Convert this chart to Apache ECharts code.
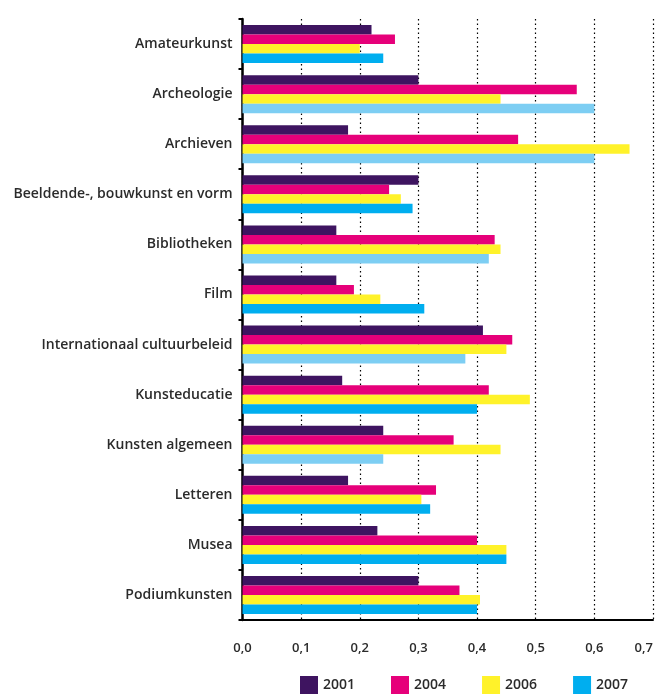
<!DOCTYPE html>
<html>
<head>
<meta charset="utf-8">
<script src="https://cdn.jsdelivr.net/npm/echarts@6/dist/echarts.min.js"></script>
<style>
html,body{margin:0;padding:0;background:#fff;}
#container{width:659px;height:694px;}
</style>
</head>
<body>
<div id="container"></div>
<script>
// categorieen (van boven naar beneden)
var categories = ['Amateurkunst','Archeologie','Archieven','Beeldende-, bouwkunst en vorm','Bibliotheken','Film',
  'Internationaal cultuurbeleid','Kunsteducatie','Kunsten algemeen','Letteren','Musea','Podiumkunsten'];
var years = ['2001','2004','2006','2007'];
var v2001 = [0.22,0.30,0.18,0.30,0.16,0.16,0.41,0.17,0.24,0.18,0.23,0.30];
var v2004 = [0.26,0.57,0.47,0.25,0.43,0.19,0.46,0.42,0.36,0.33,0.40,0.37];
var v2006 = [0.20,0.44,0.66,0.27,0.44,0.235,0.45,0.49,0.44,0.305,0.45,0.405];
var v2007 = [0.24,0.60,0.60,0.29,0.42,0.31,0.38,0.40,0.24,0.32,0.45,0.40];
// 2007-balken die in het origineel lichter blauw zijn
var lichtBlauw = ['Archeologie','Archieven','Bibliotheken','Internationaal cultuurbeleid','Kunsten algemeen'];

var kleuren = ['#3e1460','#e6007a','#fff22a','#00aeef'];
var font = '"Open Sans", sans-serif';

var dom = document.getElementById('container');
var myChart = echarts.init(dom, null, {renderer: 'canvas'});

function maakSerie(naam, waarden, idx){
  return {
    name: naam,
    type: 'bar',
    barWidth: 9.5,
    barGap: '0%',
    itemStyle: {color: kleuren[idx]},
    data: waarden.map(function (v, i) {
      if (idx === 3 && lichtBlauw.indexOf(categories[i]) >= 0) {
        return {value: v, itemStyle: {color: '#7dcef3'}};
      }
      return v;
    })
  };
}

var option = {
  animation: false,
  grid: {left: 242.5, right: 6, top: 19, bottom: 74, outerBoundsMode: 'none', containLabel: false},
  legend: {
    data: years,
    left: 295,
    top: 671,
    icon: 'rect',
    itemWidth: 18,
    itemHeight: 18,
    itemGap: 36,
    textStyle: {fontFamily: font, fontWeight: 600, fontSize: 14, color: '#2b2b2b'}
  },
  xAxis: {
    type: 'value',
    min: 0,
    max: 0.7,
    interval: 0.1,
    axisLine: {show: true, lineStyle: {color: '#000', width: 2}},
    axisTick: {show: false},
    axisLabel: {
      margin: 22,
      alignMaxLabel: 'right',
      fontFamily: font, fontWeight: 600, fontSize: 13, color: '#2b2b2b',
      formatter: function (v) { return v.toFixed(1).replace('.', ','); }
    },
    splitLine: {show: true, lineStyle: {color: '#000', type: [1.5, 3], width: 1.2}}
  },
  yAxis: {
    type: 'category',
    inverse: true,
    data: categories,
    axisLine: {show: true, lineStyle: {color: '#000', width: 2.5}},
    axisTick: {show: true, length: 4, lineStyle: {color: '#000', width: 2}},
    axisLabel: {margin: 10, fontFamily: font, fontWeight: 600, fontSize: 14, color: '#2b2b2b'}
  },
  series: [
    maakSerie('2001', v2001, 0),
    maakSerie('2004', v2004, 1),
    maakSerie('2006', v2006, 2),
    maakSerie('2007', v2007, 3)
  ]
};
myChart.setOption(option);
window.addEventListener('resize', function () { myChart.resize(); });
</script>
</body>
</html>
